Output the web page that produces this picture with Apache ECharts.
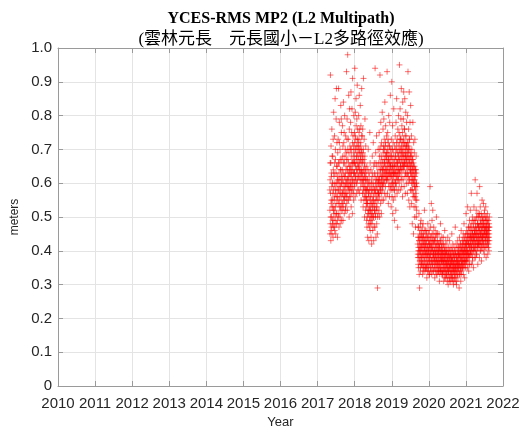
<!DOCTYPE html>
<html><head><meta charset="utf-8">
<script src="https://cdn.jsdelivr.net/npm/echarts@6/dist/echarts.min.js"></script>
<style>html,body{margin:0;padding:0;background:#fff}#c{width:526px;height:428px}</style>
</head><body><div id="c"></div>
<script>
// Title texts
const titleMain = 'YCES-RMS MP2 (L2 Multipath)';
const titleSub = '(雲林元長\u3000元長國小\uFF0DL2多路徑效應)';
const xName = 'Year';
const yName = 'meters';
// Axis ranges / ticks
const xTicks = [2010,2011,2012,2013,2014,2015,2016,2017,2018,2019,2020,2021,2022];
const yTicks = [0,0.1,0.2,0.3,0.4,0.5,0.6,0.7,0.8,0.9,1.0];
// Daily observations, stored as two interleaved sets (even days / odd days), each every 2 days
const dayInYears = 1 / 365.25;
const seg1Start = 2017.33;
const seg1EvenDays = [
0.58,0.45,0.66,0.92,0.50,0.43,0.71,0.55,0.62,0.47,0.76,0.53,0.60,0.48,0.68,0.57,0.44,0.64,0.52,0.81,
0.49,0.63,0.56,0.74,0.46,0.60,0.85,0.53,0.67,0.45,0.58,0.79,0.51,0.65,0.48,0.72,0.56,0.62,0.44,0.69,
0.55,0.73,0.50,0.88,0.61,0.47,0.66,0.78,0.53,0.59,0.70,0.48,0.64,0.57,0.83,0.52,0.62,0.75,0.49,0.67,
0.60,0.52,0.77,0.57,0.68,0.49,0.63,0.84,0.55,0.72,0.58,0.51,0.66,0.80,0.56,0.62,0.70,0.53,0.74,0.59,
0.57,0.69,0.93,0.54,0.64,0.79,0.52,0.61,0.98,0.67,0.55,0.73,0.59,0.86,0.63,0.50,0.76,0.58,0.65,0.71,
0.62,0.56,0.78,0.59,0.87,0.53,0.70,0.64,0.57,0.82,0.66,0.51,0.91,0.61,0.74,0.58,0.69,0.55,0.80,0.63,
0.66,0.75,0.59,0.94,0.70,0.56,0.81,0.62,0.73,0.85,0.60,0.68,0.57,0.79,0.64,0.89,0.61,0.76,0.58,0.71,
0.72,0.62,0.80,0.58,0.75,0.86,0.64,0.57,0.70,0.61,0.83,0.67,0.59,0.77,0.55,0.69,0.63,0.88,0.60,0.74,
0.68,0.57,0.76,0.61,0.53,0.70,0.91,0.59,0.55,0.73,0.63,0.50,0.66,0.79,0.56,0.62,0.52,0.71,0.58,0.54,
0.56,0.49,0.65,0.47,0.54,0.61,0.44,0.58,0.51,0.70,0.48,0.57,0.43,0.63,0.52,0.47,0.60,0.75,0.50,0.46,
0.54,0.48,0.64,0.44,0.58,0.51,0.42,0.60,0.49,0.68,0.53,0.46,0.62,0.50,0.72,0.55,0.43,0.59,0.47,0.66,
0.52,0.63,0.47,0.94,0.58,0.50,0.69,0.44,0.61,0.53,0.74,0.48,0.65,0.55,0.45,0.29,0.60,0.51,0.70,0.57,
0.57,0.66,0.52,0.75,0.61,0.50,0.70,0.92,0.58,0.64,0.54,0.78,0.60,0.68,0.51,0.72,0.62,0.55,0.81,0.59,
0.64,0.58,0.76,0.62,0.70,0.55,0.79,0.60,0.73,0.66,0.57,0.84,0.63,0.71,0.59,0.77,0.56,0.68,0.61,0.74,
0.61,0.69,0.93,0.64,0.57,0.75,0.62,0.72,0.54,0.67,0.80,0.59,0.71,0.63,0.56,0.78,0.66,0.58,0.86,0.65,
0.59,0.68,0.53,0.73,0.62,0.90,0.56,0.70,0.60,0.77,0.51,0.65,0.72,0.55,0.63,0.82,0.58,0.67,0.49,0.71,
0.63,0.56,0.74,0.60,0.68,0.52,0.78,0.59,0.70,0.85,0.62,0.57,0.73,0.66,0.47,0.76,0.64,0.58,0.80,0.61,
0.67,0.75,0.60,0.95,0.70,0.63,0.82,0.58,0.73,0.65,0.79,0.61,0.88,0.69,0.59,0.77,0.64,0.72,0.56,0.84,
0.69,0.61,0.79,0.65,0.87,0.72,0.59,0.76,0.66,0.85,0.62,0.74,0.57,0.68,0.81,0.63,0.71,0.60,0.78,0.67,
0.62,0.72,0.57,0.80,0.65,0.93,0.60,0.70,0.76,0.55,0.67,0.87,0.61,0.73,0.53,0.78,0.64,0.58,0.83,0.68,
0.64,0.58,0.74,0.54,0.70,0.62,0.48,0.67,0.60,0.78,0.56,0.65,0.45,0.72,0.61,0.53,0.69,0.59,0.50,0.73,
0.63,0.56,0.47,0.64,0.53,0.68,0.50,0.60,0.55
];
const seg1OddDays = [
0.52,0.61,0.48,0.57,0.66,0.46,0.54,0.63,0.50,0.59,0.45,0.68,0.55,0.49,0.60,0.53,0.73,0.47,0.58,0.51,
0.62,0.55,0.47,0.66,0.52,0.59,0.50,0.70,0.57,0.48,0.63,0.54,0.88,0.60,0.51,0.56,0.65,0.49,0.61,0.58,
0.60,0.54,0.66,0.58,0.51,0.63,0.57,0.72,0.55,0.61,0.50,0.67,0.59,0.53,0.64,0.56,0.79,0.60,0.54,0.62,
0.57,0.64,0.54,0.61,0.71,0.58,0.53,0.66,0.60,0.56,0.75,0.62,0.55,0.59,0.68,0.57,0.63,0.52,0.60,0.65,
0.61,0.56,0.67,0.60,0.73,0.57,0.64,0.59,0.70,0.62,0.55,0.66,0.61,0.58,0.69,0.63,0.56,0.82,0.60,0.64,
0.65,0.60,0.70,0.63,0.58,0.68,0.62,0.75,0.60,0.66,0.59,0.72,0.64,0.61,0.67,0.57,0.71,0.63,0.66,0.60,
0.68,0.63,0.72,0.66,0.61,0.74,0.65,0.70,0.62,0.77,0.67,0.64,0.71,0.60,0.69,0.66,0.73,0.63,0.68,0.65,
0.70,0.65,0.67,0.73,0.62,0.69,0.66,0.76,0.64,0.71,0.63,0.68,0.72,0.61,0.66,0.70,0.64,0.74,0.62,0.67,
0.63,0.66,0.60,0.69,0.58,0.64,0.61,0.67,0.57,0.62,0.65,0.59,0.68,0.56,0.61,0.64,0.58,0.60,0.63,0.55,
0.58,0.53,0.61,0.55,0.50,0.59,0.54,0.64,0.52,0.57,0.60,0.51,0.56,0.62,0.53,0.58,0.49,0.55,0.66,0.52,
0.56,0.52,0.59,0.50,0.61,0.54,0.57,0.48,0.63,0.55,0.51,0.58,0.53,0.60,0.56,0.50,0.65,0.54,0.57,0.52,
0.58,0.54,0.62,0.51,0.57,0.60,0.55,0.66,0.52,0.59,0.56,0.61,0.53,0.58,0.63,0.50,0.57,0.62,0.55,0.60,
0.61,0.57,0.64,0.59,0.68,0.56,0.62,0.60,0.66,0.58,0.63,0.71,0.59,0.65,0.61,0.57,0.67,0.62,0.64,0.60,
0.66,0.62,0.69,0.64,0.60,0.71,0.65,0.67,0.63,0.70,0.61,0.66,0.68,0.64,0.72,0.62,0.65,0.69,0.63,0.67,
0.64,0.68,0.62,0.70,0.66,0.61,0.73,0.65,0.67,0.63,0.69,0.60,0.66,0.71,0.64,0.62,0.68,0.65,0.70,0.63,
0.62,0.66,0.60,0.68,0.64,0.58,0.70,0.63,0.65,0.61,0.67,0.59,0.64,0.62,0.69,0.60,0.66,0.63,0.58,0.65,
0.65,0.61,0.68,0.63,0.70,0.60,0.66,0.64,0.72,0.62,0.67,0.65,0.61,0.69,0.63,0.66,0.71,0.62,0.68,0.64,
0.69,0.64,0.72,0.67,0.63,0.74,0.66,0.70,0.65,0.68,0.73,0.64,0.71,0.67,0.62,0.70,0.66,0.75,0.68,0.65,
0.70,0.66,0.73,0.68,0.64,0.71,0.67,0.76,0.65,0.69,0.72,0.66,0.70,0.63,0.68,0.74,0.67,0.71,0.65,0.69,
0.66,0.70,0.63,0.68,0.72,0.65,0.69,0.62,0.71,0.67,0.64,0.73,0.66,0.70,0.61,0.68,0.65,0.63,0.69,0.66,
0.63,0.66,0.60,0.68,0.62,0.65,0.58,0.64,0.67,0.61,0.63,0.57,0.66,0.60,0.64,0.62,0.56,0.65,0.61,0.59,
0.62,0.58,0.64,0.55,0.60,0.57,0.63,0.52,0.59
];
const seg2Start = 2019.70;
const seg2EvenDays = [
0.42,0.38,0.47,0.40,0.35,0.44,0.51,0.39,0.43,0.29,0.41,0.37,0.46,0.40,0.34,0.44,0.49,0.38,0.42,0.36,
0.40,0.45,0.37,0.43,0.33,0.41,0.48,0.39,0.36,0.44,0.42,0.35,0.40,0.52,0.38,0.43,0.34,0.41,0.46,0.39,
0.37,0.42,0.35,0.45,0.40,0.32,0.39,0.44,0.36,0.41,0.48,0.38,0.34,0.43,0.40,0.36,0.46,0.39,0.33,0.42,
0.38,0.59,0.41,0.35,0.44,0.39,0.37,0.54,0.42,0.33,0.40,0.45,0.36,0.41,0.52,0.38,0.43,0.34,0.39,0.47,
0.40,0.36,0.43,0.38,0.32,0.41,0.46,0.37,0.39,0.44,0.35,0.40,0.50,0.37,0.42,0.33,0.39,0.45,0.36,0.41,
0.38,0.42,0.34,0.40,0.36,0.45,0.39,0.31,0.41,0.37,0.43,0.35,0.48,0.38,0.40,0.34,0.42,0.37,0.39,0.44,
0.36,0.40,0.33,0.42,0.38,0.35,0.44,0.37,0.31,0.39,0.41,0.34,0.38,0.46,0.36,0.40,0.32,0.39,0.43,0.35,
0.37,0.33,0.40,0.36,0.42,0.31,0.38,0.35,0.44,0.37,0.30,0.39,0.34,0.41,0.36,0.38,0.32,0.43,0.35,0.40,
0.34,0.39,0.36,0.31,0.41,0.37,0.33,0.38,0.45,0.35,0.40,0.32,0.37,0.42,0.34,0.36,0.30,0.39,0.35,0.41,
0.36,0.33,0.40,0.37,0.31,0.47,0.35,0.39,0.34,0.42,0.36,0.30,0.38,0.33,0.41,0.37,0.35,0.43,0.32,0.39,
0.37,0.41,0.34,0.39,0.29,0.36,0.44,0.38,0.33,0.40,0.35,0.42,0.31,0.38,0.46,0.36,0.40,0.34,0.37,0.43,
0.39,0.35,0.42,0.37,0.45,0.33,0.40,0.38,0.48,0.36,0.41,0.32,0.39,0.44,0.37,0.42,0.35,0.40,0.51,0.38,
0.41,0.37,0.46,0.39,0.43,0.35,0.53,0.40,0.38,0.45,0.42,0.34,0.47,0.39,0.41,0.49,0.36,0.44,0.40,0.52,
0.42,0.47,0.39,0.44,0.57,0.41,0.36,0.46,0.43,0.50,0.38,0.45,0.40,0.48,0.42,0.35,0.44,0.53,0.41,0.46,
0.43,0.49,0.40,0.61,0.45,0.38,0.47,0.42,0.52,0.44,0.39,0.46,0.57,0.41,0.48,0.43,0.36,0.50,0.45,0.42,
0.47,0.41,0.50,0.44,0.38,0.59,0.46,0.42,0.53,0.45,0.40,0.48,0.43,0.51,0.37,0.46,0.44,0.55,0.41,0.49,
0.44,0.50,0.42,0.47,0.54,0.40,0.48,0.45,0.39,0.52,0.46,0.43,0.49,0.41,0.47,0.53,0.44,0.38,0.50,0.46,
0.45,0.41,0.48,0.43,0.51,0.39,0.46,0.44,0.49,0.42,0.47,0.40,0.45,0.50
];
const seg2OddDays = [
0.39,0.44,0.36,0.41,0.47,0.38,0.43,0.33,0.40,0.45,0.37,0.42,0.35,0.48,0.39,0.41,0.36,0.44,0.38,0.46,
0.41,0.36,0.44,0.39,0.47,0.35,0.42,0.38,0.45,0.34,0.40,0.43,0.37,0.41,0.46,0.36,0.39,0.44,0.35,0.42,
0.40,0.35,0.43,0.38,0.36,0.46,0.41,0.34,0.39,0.44,0.37,0.42,0.35,0.40,0.45,0.38,0.33,0.41,0.37,0.43,
0.36,0.42,0.39,0.47,0.34,0.40,0.44,0.37,0.41,0.35,0.49,0.38,0.43,0.36,0.40,0.34,0.45,0.39,0.42,0.37,
0.38,0.43,0.35,0.40,0.37,0.44,0.34,0.39,0.42,0.36,0.41,0.33,0.38,0.45,0.35,0.40,0.37,0.43,0.34,0.39,
0.36,0.40,0.38,0.34,0.42,0.37,0.35,0.41,0.33,0.39,0.36,0.43,0.34,0.38,0.40,0.35,0.37,0.41,0.33,0.39,
0.38,0.34,0.37,0.40,0.33,0.39,0.36,0.42,0.34,0.37,0.35,0.40,0.32,0.38,0.36,0.41,0.34,0.37,0.39,0.33,
0.35,0.39,0.33,0.37,0.36,0.40,0.34,0.38,0.32,0.36,0.39,0.34,0.37,0.33,0.40,0.35,0.38,0.31,0.36,0.38,
0.36,0.33,0.38,0.35,0.39,0.32,0.37,0.34,0.36,0.40,0.33,0.38,0.35,0.31,0.37,0.39,0.34,0.36,0.32,0.38,
0.34,0.38,0.35,0.32,0.39,0.36,0.33,0.40,0.35,0.37,0.31,0.38,0.34,0.36,0.39,0.33,0.37,0.35,0.40,0.36,
0.39,0.35,0.38,0.36,0.41,0.33,0.39,0.36,0.42,0.34,0.38,0.40,0.35,0.37,0.33,0.41,0.38,0.36,0.39,0.35,
0.41,0.37,0.40,0.43,0.36,0.39,0.42,0.35,0.44,0.38,0.40,0.37,0.43,0.36,0.41,0.39,0.45,0.37,0.42,0.40,
0.43,0.39,0.42,0.37,0.45,0.40,0.44,0.38,0.42,0.47,0.39,0.43,0.36,0.44,0.41,0.38,0.46,0.42,0.39,0.44,
0.45,0.40,0.43,0.48,0.41,0.44,0.39,0.46,0.42,0.37,0.45,0.43,0.49,0.40,0.44,0.47,0.41,0.43,0.38,0.45,
0.46,0.41,0.44,0.49,0.42,0.47,0.40,0.45,0.43,0.50,0.39,0.46,0.44,0.41,0.48,0.42,0.45,0.51,0.43,0.47,
0.44,0.48,0.42,0.46,0.51,0.43,0.47,0.40,0.45,0.49,0.44,0.42,0.48,0.46,0.41,0.50,0.44,0.47,0.43,0.45,
0.47,0.43,0.49,0.45,0.42,0.48,0.44,0.51,0.46,0.41,0.47,0.45,0.50,0.43,0.46,0.44,0.49,0.42,0.47,0.45,
0.48,0.44,0.46,0.42,0.49,0.45,0.43,0.47,0.41,0.46,0.44,0.48,0.43,0.47
];

// build [year, value] pairs: first day offset (0 = even set, 1 = odd set), spacing 2 days
function toPoints(start, firstDay, values) {
  return values.map((v, i) => [start + (firstDay + 2 * i) * dayInYears, v]);
}
const points = [].concat(
  toPoints(seg1Start, 0, seg1EvenDays),
  toPoints(seg1Start, 1, seg1OddDays),
  toPoints(seg2Start, 0, seg2EvenDays),
  toPoints(seg2Start, 1, seg2OddDays)
);

const axisGray = '#9a9a9a';
const labelColor = '#262626';
const gridGray = '#e4e4e4';
const xMin = xTicks[0], xMax = xTicks[xTicks.length - 1];
const yMin = yTicks[0], yMax = yTicks[yTicks.length - 1];

const chart = echarts.init(document.getElementById('c'), null, {renderer: 'canvas'});
chart.setOption({
  animation: false,
  backgroundColor: '#fff',
  title: [
    {text: titleMain, left: 276, top: 6, textAlign: 'center',
     textStyle: {fontFamily: 'Liberation Serif', fontWeight: 'bold', fontSize: 16, color: '#000'}},
    {text: titleSub, left: 276, top: 26, textAlign: 'center',
     textStyle: {fontFamily: 'Liberation Serif, Noto Sans CJK TC', fontWeight: 'normal', fontSize: 17, color: '#000'}}
  ],
  grid: {left: 58, right: 23, top: 48, bottom: 42, containLabel: false, outerBoundsMode: 'none'},
  xAxis: [
    {type: 'value', min: xMin, max: xMax, interval: 1, position: 'bottom',
     name: xName, nameLocation: 'middle', nameGap: 29,
     nameTextStyle: {fontFamily: 'Liberation Sans', fontSize: 13, color: labelColor},
     axisLine: {show: true, lineStyle: {color: axisGray}},
     axisTick: {show: true, inside: true, length: 5, lineStyle: {color: axisGray}},
     axisLabel: {margin: 10, fontFamily: 'Liberation Sans', fontSize: 15, color: labelColor, formatter: v => String(v)},
     splitLine: {show: true, lineStyle: {color: gridGray, width: 1}}},
    {type: 'value', min: xMin, max: xMax, interval: 1, position: 'top',
     axisLine: {show: true, onZero: false, lineStyle: {color: axisGray}},
     axisTick: {show: true, inside: true, length: 5, lineStyle: {color: axisGray}},
     axisLabel: {show: false}, splitLine: {show: false}}
  ],
  yAxis: [
    {type: 'value', min: yMin, max: yMax, interval: 0.1, position: 'left',
     name: yName, nameLocation: 'middle', nameGap: 37,
     nameTextStyle: {fontFamily: 'Liberation Sans', fontSize: 12, color: labelColor},
     axisLine: {show: true, lineStyle: {color: axisGray}},
     axisTick: {show: true, inside: true, length: 5, lineStyle: {color: axisGray}},
     axisLabel: {margin: 6, fontFamily: 'Liberation Sans', fontSize: 15, color: labelColor,
       formatter: v => (v === 0 ? '0' : v.toFixed(1))},
     splitLine: {show: true, lineStyle: {color: gridGray, width: 1}}},
    {type: 'value', min: yMin, max: yMax, interval: 0.1, position: 'right',
     axisLine: {show: true, onZero: false, lineStyle: {color: axisGray}},
     axisTick: {show: true, inside: true, length: 5, lineStyle: {color: axisGray}},
     axisLabel: {show: false}, splitLine: {show: false}}
  ],
  series: [{
    type: 'scatter', xAxisIndex: 0, yAxisIndex: 0,
    data: points,
    symbol: 'path://M5,0L5,10M0,5L10,5',
    symbolSize: 6,
    large: false,
    progressive: 0,
    itemStyle: {color: 'rgba(0,0,0,0)', borderColor: 'rgba(255,0,0,0.7)', borderWidth: 1},
    emphasis: {disabled: true},
    silent: true
  }]
});
</script></body></html>
